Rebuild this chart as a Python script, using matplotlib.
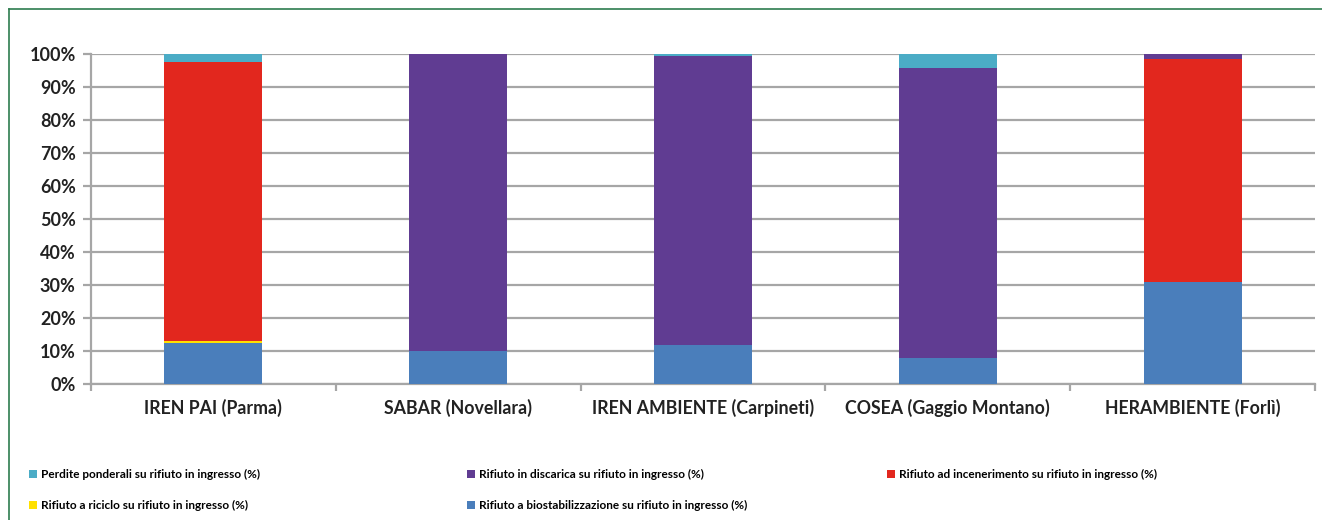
import matplotlib
matplotlib.use("Agg")
import numpy as np
from matplotlib import pyplot as plt
from matplotlib.lines import Line2D
from matplotlib.patches import Patch

plt.rcParams["font.family"] = ["Lato", "DejaVu Sans"]
plt.rcParams["font.weight"] = "bold"

categories = [
    "IREN PAI (Parma)",
    "SABAR (Novellara)",
    "IREN AMBIENTE (Carpineti)",
    "COSEA (Gaggio Montano)",
    "HERAMBIENTE (Forlì)",
]
# stacked from bottom to top, percent
biostab = [12.3, 10.0, 11.8, 7.9, 30.9]
riciclo = [0.6, 0.0, 0.0, 0.0, 0.0]
inceneri = [84.7, 0.0, 0.0, 0.0, 67.6]
discarica = [0.0, 90.0, 87.6, 87.9, 1.5]
perdite = [2.4, 0.0, 0.6, 4.2, 0.0]

series = [
    ("Rifiuto a biostabilizzazione su rifiuto in ingresso (%)", biostab, "#4a7ebb"),
    ("Rifiuto a riciclo su rifiuto in ingresso (%)", riciclo, "#ffe000"),
    ("Rifiuto ad incenerimento su rifiuto in ingresso (%)", inceneri, "#e2271e"),
    ("Rifiuto in discarica su rifiuto in ingresso (%)", discarica, "#603c92"),
    ("Perdite ponderali su rifiuto in ingresso (%)", perdite, "#4bacc6"),
]
colors = {name: c for name, _, c in series}

fig = plt.figure(figsize=(13.22, 5.2), dpi=100)
ax = fig.add_axes([91 / 1322, 1 - 384 / 520, (1315 - 91) / 1322, 330 / 520])

x = np.arange(len(categories))
bottom = np.zeros(len(categories))
for name, vals, c in series:
    v = np.array(vals)
    ax.bar(x, v, width=0.4, bottom=bottom, color=c, zorder=3)
    bottom += v

grid = "#a6a6a6"
ax.set_ylim(0, 100)
ax.set_xlim(-0.5, len(categories) - 0.5)
ax.set_yticks(np.arange(0, 101, 10))
ax.set_yticklabels([f"{t}%" for t in range(0, 101, 10)], fontsize=13, color="#222222")
ax.yaxis.grid(True, color=grid, linewidth=1.6, zorder=0)
ax.set_xticks(x)
ax.set_xticklabels(categories, fontsize=12.8, color="#222222")
ax.tick_params(axis="x", length=0, pad=11)
ax.set_xticks(np.arange(-0.5, len(categories)), minor=True)
ax.tick_params(axis="x", which="minor", length=5, color=grid, width=1.6)
ax.tick_params(axis="y", length=6, color=grid, width=1.6, pad=5)
for s in ["top", "right"]:
    ax.spines[s].set_visible(False)
ax.spines["left"].set_color(grid)
ax.spines["bottom"].set_color(grid)
ax.spines["left"].set_linewidth(1.6)
ax.spines["bottom"].set_linewidth(1.6)

# legend, three columns placed by hand
legend_cols = [
    (24, ["Perdite ponderali su rifiuto in ingresso (%)",
          "Rifiuto a riciclo su rifiuto in ingresso (%)"]),
    (462, ["Rifiuto in discarica su rifiuto in ingresso (%)",
           "Rifiuto a biostabilizzazione su rifiuto in ingresso (%)"]),
    (882, ["Rifiuto ad incenerimento su rifiuto in ingresso (%)"]),
]
for xpix, names in legend_cols:
    handles = [Patch(facecolor=colors[n], edgecolor="none") for n in names]
    fig.legend(handles, names, loc="upper left",
               bbox_to_anchor=(xpix / 1322, 1 - 464 / 520),
               frameon=False, fontsize=8.5, handlelength=0.7, handleheight=0.7,
               handletextpad=0.3, labelspacing=1.75, borderaxespad=0)

# outer frame
fc = "#2e7d4f"
fig.add_artist(Line2D([9 / 1322, 1], [1 - 9 / 520, 1 - 9 / 520], color=fc, linewidth=1.2,
                      transform=fig.transFigure))
fig.add_artist(Line2D([9 / 1322, 9 / 1322], [0, 1 - 9 / 520], color=fc, linewidth=1.2,
                      transform=fig.transFigure))

fig.savefig("out.png", dpi=100)
